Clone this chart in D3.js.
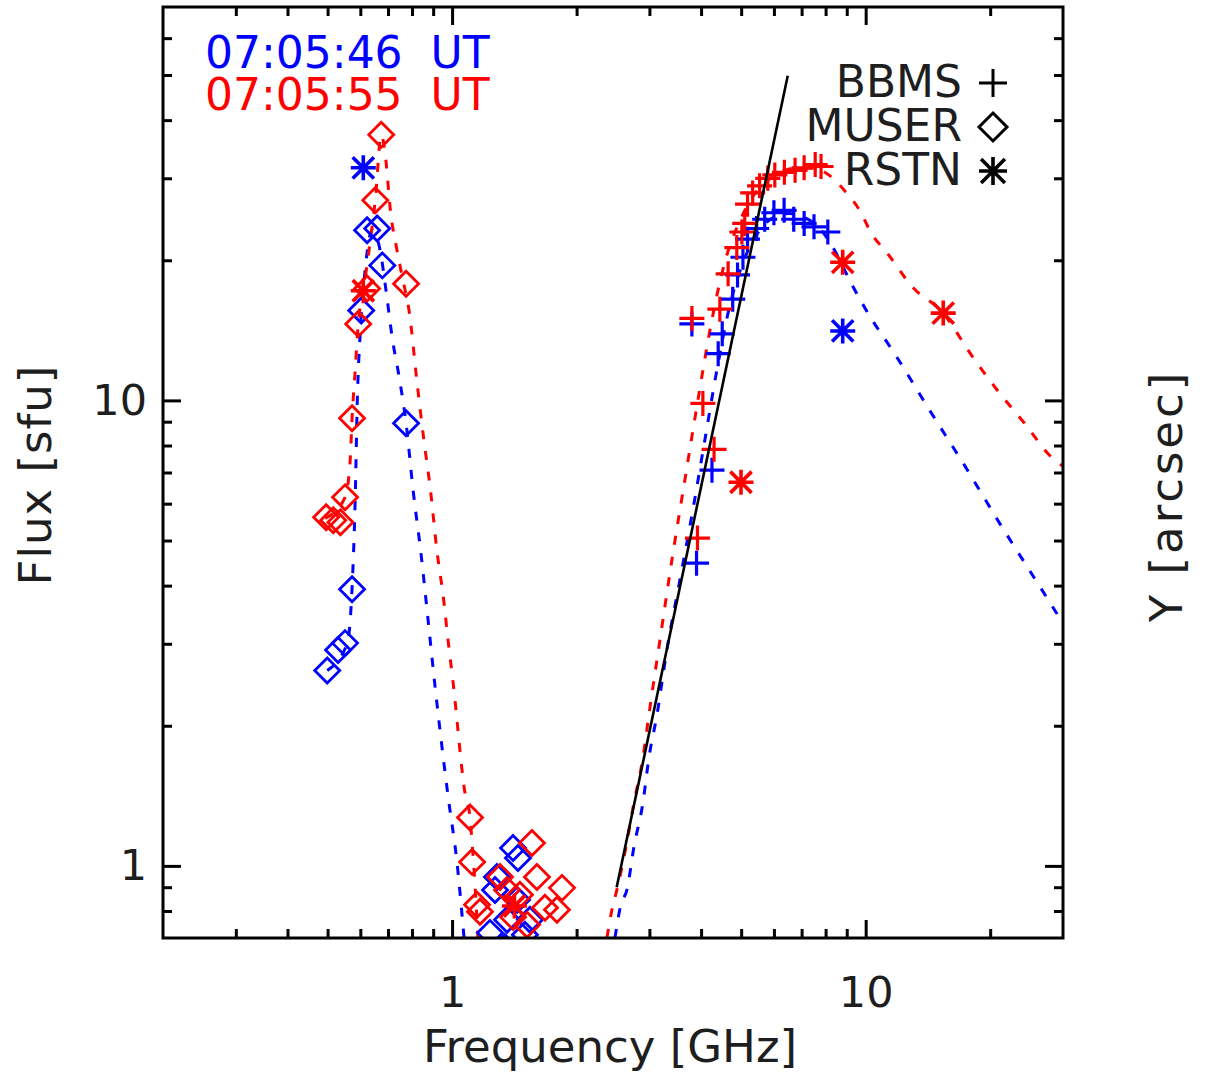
<!DOCTYPE html>
<html>
<head>
<meta charset="utf-8">
<script src="https://cdn.jsdelivr.net/npm/d3@7"></script>
<style>
  html, body { margin: 0; padding: 0; background: #fff; }
  svg { display: block; }
  text { font-family: "DejaVu Sans", sans-serif; }
</style>
</head>
<body>
<svg id="chart" width="1206" height="1077"></svg>
<script>
// ---- Axis ticks -------------------------------------------------------
const xMajorTicks = [1, 10];
const xMinorTicks = [0.3, 0.4, 0.5, 0.6, 0.7, 0.8, 0.9, 2, 3, 4, 5, 6, 7, 8, 9, 20];
const yMajorTicks = [1, 10];
const yMinorTicks = [0.8, 0.9, 2, 3, 4, 5, 6, 7, 8, 9, 20, 30, 40, 50, 60];

// ---- Observed spectra, 07:05:46 UT (blue) ------------------------------
const muserFreqBlue = [0.499, 0.530, 0.551, 0.573, 0.603, 0.623, 0.659, 0.678, 0.774,
                       1.235, 1.270, 1.284, 1.358, 1.404, 1.436, 1.443, 1.500, 1.543, 1.340];
const muserFluxBlue = [2.63, 2.91, 3.01, 3.93, 15.6, 23.2, 23.4, 19.5, 8.93,
                       0.718, 0.888, 0.947, 0.766, 1.093, 0.846, 1.040, 0.711, 0.766, 0.67];
const rstnFreqBlue = [0.61, 8.8];
const rstnFluxBlue = [31.6, 14.1];
const bbmsFreqBlue = [3.80, 3.90, 4.25, 4.40, 4.50, 4.77, 4.90, 5.05, 5.18, 5.45,
                      5.70, 6.00, 6.35, 6.70, 7.10, 7.50, 8.10];
const bbmsFluxBlue = [14.6, 4.47, 7.08, 12.6, 13.9, 16.5, 18.6, 20.3, 22.2, 23.4,
                      24.5, 25.3, 25.6, 24.5, 24.0, 23.6, 23.0];

// ---- Observed spectra, 07:05:55 UT (red) -------------------------------
const muserFreqRed = [0.496, 0.516, 0.537, 0.551, 0.573, 0.593, 0.623, 0.652, 0.674, 0.774,
                      1.105, 1.118, 1.149, 1.168, 1.306, 1.358, 1.404, 1.459, 1.518,
                      1.560, 1.604, 1.677, 1.793, 1.844];
const muserFluxRed = [5.61, 5.53, 5.47, 6.19, 9.15, 14.6, 17.4, 26.9, 37.2, 17.8,
                      1.27, 1.02, 0.825, 0.797, 0.947, 0.888, 0.777, 0.867, 0.747,
                      1.120, 0.947, 0.813, 0.805, 0.897];
const rstnFreqRed = [0.61, 1.415, 4.995, 8.8, 15.4];
const rstnFluxRed = [17.2, 0.82, 6.67, 19.8, 15.4];
const bbmsFreqRed = [3.80, 3.92, 4.04, 4.30, 4.44, 4.65, 4.88, 5.02, 5.10, 5.18,
                     5.33, 5.54, 5.80, 6.03, 6.36, 6.75, 7.10, 7.55, 7.80];
const bbmsFluxRed = [15.0, 5.06, 9.85, 7.85, 15.7, 18.7, 21.3, 23.0, 24.0, 26.4,
                     27.9, 28.9, 30.0, 30.5, 30.9, 31.2, 31.6, 32.1, 31.8];

// ---- Model spectra (dashed) --------------------------------------------
const lowFitFreqBlue = [0.499, 0.558, 0.573, 0.583, 0.590, 0.600, 0.616, 0.641, 0.670, 0.693,
                        0.716, 0.749, 0.774, 0.805, 0.842, 0.875, 0.910, 0.978, 1.028, 1.069];
const lowFitFluxBlue = [2.63, 3.01, 3.95, 6.10, 10.0, 14.1, 19.0, 23.2, 21.0, 17.1,
                        13.7, 10.9, 8.93, 6.41, 4.65, 3.37, 2.42, 1.41, 1.015, 0.70];
const lowFitFreqRed = [0.4935, 0.551, 0.567, 0.573, 0.583, 0.593, 0.610, 0.634, 0.652, 0.674,
                       0.693, 0.708, 0.736, 0.761, 0.787, 0.823, 0.856, 0.885, 0.920, 0.951,
                       0.978, 1.006, 1.075, 1.105, 1.118, 1.130, 1.155];
const lowFitFluxRed = [5.58, 6.19, 7.43, 9.15, 11.6, 14.6, 17.2, 22.0, 26.9, 37.2,
                       32.3, 26.0, 21.0, 18.1, 15.6, 10.9, 8.13, 6.51, 4.72, 3.82,
                       3.05, 2.47, 1.43, 1.27, 1.12, 0.98, 0.70];
const highFitFreqBlue = [2.476, 2.559, 2.647, 2.752, 2.893, 2.991, 3.128, 3.306, 3.554, 3.82,
                         4.084, 4.366, 4.694, 5.102, 5.546, 6.029, 6.553, 7.121, 7.743, 8.418,
                         9.150, 10.22, 11.75, 14.28, 17.34, 21.07, 25.60, 30.0];
const highFitFluxBlue = [0.70, 0.825, 0.888, 1.098, 1.365, 1.705, 2.109, 2.908, 4.11, 5.81,
                         8.21, 11.6, 16.0, 20.2, 23.2, 24.8, 25.2, 24.7, 23.4, 21.0,
                         18.1, 15.2, 12.6, 9.52, 7.25, 5.45, 4.15, 3.32];
const highFitFreqRed = [2.368, 2.435, 2.503, 2.633, 2.752, 2.893, 2.991, 3.180, 3.400, 3.654,
                        3.929, 4.246, 4.564, 4.963, 5.395, 5.864, 6.373, 6.928, 7.531, 8.185,
                        8.897, 9.672, 10.34, 11.24, 12.99, 15.35, 18.03, 20.84, 24.22, 28.30, 30.0];
const highFitFluxRed = [0.70, 0.805, 0.888, 1.098, 1.365, 1.705, 2.109, 3.05, 4.54, 6.74,
                        10.0, 14.85, 19.8, 24.3, 27.8, 29.9, 31.2, 31.6, 31.5, 30.4,
                        28.2, 25.6, 22.8, 20.8, 17.5, 15.45, 12.5, 10.5, 8.93, 7.51, 7.22];

// Power-law fit to the optically thick slope
const powerLawFreq = [2.50, 6.48];
const powerLawFlux = [0.90, 49.8];

// ---- Labels ------------------------------------------------------------
const timeLabels = ["07:05:46  UT", "07:05:55  UT"];
const legendNames = ["BBMS", "MUSER", "RSTN"];
const xTitle = "Frequency [GHz]";
const yTitle = "Flux [sfu]";
const y2Title = "Y [arcsec]";

// ---- Layout ------------------------------------------------------------
const plot = { left: 163, right: 1063, top: 7, bottom: 938 };
const BLUE = "#0000ff", RED = "#ff0000", INK = "#1e1e1e";
const majorLen = 18, minorLen = 9;

const svg = d3.select("#chart");

const x = d3.scaleLog().domain([0.2, 30]).range([plot.left, plot.right]);
const y = d3.scaleLog().domain([0.7, 70]).range([plot.bottom, plot.top]);

svg.append("defs").append("clipPath").attr("id", "plot-clip")
  .append("rect")
  .attr("x", plot.left).attr("y", plot.top)
  .attr("width", plot.right - plot.left).attr("height", plot.bottom - plot.top);

const fitLayer = svg.append("g").attr("clip-path", "url(#plot-clip)");
const markLayer = svg.append("g").attr("clip-path", "url(#plot-clip)");
const lineLayer = svg.append("g").attr("clip-path", "url(#plot-clip)");

// ---- Dashed model curves ----------------------------------------------
const curve = d3.line()
  .x(d => x(d[0])).y(d => y(d[1]))
  .curve(d3.curveMonotoneX);

const fits = [
  { f: lowFitFreqBlue, s: lowFitFluxBlue, c: BLUE },
  { f: highFitFreqBlue, s: highFitFluxBlue, c: BLUE },
  { f: lowFitFreqRed, s: lowFitFluxRed, c: RED },
  { f: highFitFreqRed, s: highFitFluxRed, c: RED }
];
fits.forEach(ft => {
  fitLayer.append("path")
    .attr("d", curve(d3.zip(ft.f, ft.s)))
    .attr("fill", "none")
    .attr("stroke", ft.c)
    .attr("stroke-width", 3)
    .attr("stroke-dasharray", "9,12");
});

// ---- Markers -----------------------------------------------------------
const shapes = {
  plus: r => `M${-r},0H${r}M0,${-r}V${r}`,
  diamond: r => `M0,${-r}L${r},0L0,${r}L${-r},0Z`,
  star: r => {
    const q = r * 0.85;
    return `M${-r},0H${r}M0,${-r}V${r}M${-q},${-q}L${q},${q}M${-q},${q}L${q},${-q}`;
  }
};

function drawMarkers(freqs, fluxes, shape, color, r, width) {
  markLayer.append("g")
    .selectAll("path")
    .data(d3.zip(freqs, fluxes))
    .join("path")
    .attr("transform", d => `translate(${x(d[0])},${y(d[1])})`)
    .attr("d", shapes[shape](r))
    .attr("fill", "none")
    .attr("stroke", color)
    .attr("stroke-width", width);
}

drawMarkers(muserFreqBlue, muserFluxBlue, "diamond", BLUE, 12.5, 2.8);
drawMarkers(muserFreqRed, muserFluxRed, "diamond", RED, 12.5, 2.8);
drawMarkers(bbmsFreqBlue, bbmsFluxBlue, "plus", BLUE, 12.5, 3.2);
drawMarkers(bbmsFreqRed, bbmsFluxRed, "plus", RED, 12.5, 3.2);
drawMarkers(rstnFreqBlue, rstnFluxBlue, "star", BLUE, 12.5, 3.6);
drawMarkers(rstnFreqRed, rstnFluxRed, "star", RED, 12.5, 3.6);

// ---- Power-law line ----------------------------------------------------
lineLayer.append("path")
  .attr("d", d3.line().x(d => x(d[0])).y(d => y(d[1]))(d3.zip(powerLawFreq, powerLawFlux)))
  .attr("fill", "none")
  .attr("stroke", "#000")
  .attr("stroke-width", 2.6);

// ---- Axes (ticks point inward on all four sides) -----------------------
function styleAxis(g) {
  g.select(".domain").remove();
  g.selectAll(".tick line").attr("stroke", "#000").attr("stroke-width", 3);
  g.selectAll(".tick text")
    .attr("fill", INK)
    .style("font-family", "'DejaVu Sans', sans-serif")
    .style("font-size", "43px");
}

// bottom
svg.append("g").attr("transform", `translate(0,${plot.bottom})`)
  .call(d3.axisBottom(x).tickValues(xMajorTicks).tickFormat(d3.format("d"))
        .tickSizeInner(-majorLen).tickSizeOuter(0).tickPadding(38))
  .call(styleAxis);
svg.append("g").attr("transform", `translate(0,${plot.bottom})`)
  .call(d3.axisBottom(x).tickValues(xMinorTicks).tickFormat("")
        .tickSizeInner(-minorLen).tickSizeOuter(0))
  .call(styleAxis);
// top
svg.append("g").attr("transform", `translate(0,${plot.top})`)
  .call(d3.axisTop(x).tickValues(xMajorTicks).tickFormat("")
        .tickSizeInner(-majorLen).tickSizeOuter(0))
  .call(styleAxis);
svg.append("g").attr("transform", `translate(0,${plot.top})`)
  .call(d3.axisTop(x).tickValues(xMinorTicks).tickFormat("")
        .tickSizeInner(-minorLen).tickSizeOuter(0))
  .call(styleAxis);
// left
svg.append("g").attr("transform", `translate(${plot.left},0)`)
  .call(d3.axisLeft(y).tickValues(yMajorTicks).tickFormat(d3.format("d"))
        .tickSizeInner(-majorLen).tickSizeOuter(0).tickPadding(16))
  .call(styleAxis);
svg.append("g").attr("transform", `translate(${plot.left},0)`)
  .call(d3.axisLeft(y).tickValues(yMinorTicks).tickFormat("")
        .tickSizeInner(-minorLen).tickSizeOuter(0))
  .call(styleAxis);
// right
svg.append("g").attr("transform", `translate(${plot.right},0)`)
  .call(d3.axisRight(y).tickValues(yMajorTicks).tickFormat("")
        .tickSizeInner(-majorLen).tickSizeOuter(0))
  .call(styleAxis);
svg.append("g").attr("transform", `translate(${plot.right},0)`)
  .call(d3.axisRight(y).tickValues(yMinorTicks).tickFormat("")
        .tickSizeInner(-minorLen).tickSizeOuter(0))
  .call(styleAxis);

// frame
svg.append("rect")
  .attr("x", plot.left).attr("y", plot.top)
  .attr("width", plot.right - plot.left).attr("height", plot.bottom - plot.top)
  .attr("fill", "none").attr("stroke", "#000").attr("stroke-width", 3);

// ---- Axis titles -------------------------------------------------------
svg.append("text")
  .attr("x", 610).attr("y", 1062)
  .attr("text-anchor", "middle")
  .attr("fill", INK).style("font-size", "45px")
  .text(xTitle);
svg.append("text")
  .attr("transform", `translate(51,475) rotate(-90)`)
  .attr("text-anchor", "middle")
  .attr("fill", INK).style("font-size", "45px")
  .style("letter-spacing", "1px")
  .text(yTitle);
svg.append("text")
  .attr("transform", `translate(1182,496) rotate(-90)`)
  .attr("text-anchor", "middle")
  .attr("fill", INK).style("font-size", "45px")
  .style("letter-spacing", "3px")
  .text(y2Title);

// ---- Time stamps -------------------------------------------------------
svg.append("g").selectAll("text")
  .data(timeLabels)
  .join("text")
  .attr("x", 205)
  .attr("y", (d, i) => 68 + i * 42)
  .attr("fill", (d, i) => i === 0 ? BLUE : RED)
  .style("font-size", "44px")
  .style("white-space", "pre")
  .attr("xml:space", "preserve")
  .text(d => d);

// ---- Instrument legend -------------------------------------------------
const legendShapes = ["plus", "diamond", "star"];
const legend = svg.append("g");
legendNames.forEach((name, i) => {
  const baseY = 97 + i * 44;
  legend.append("text")
    .attr("x", 962).attr("y", baseY)
    .attr("text-anchor", "end")
    .attr("fill", INK)
    .style("font-size", "44px")
    .text(name);
  legend.append("path")
    .attr("transform", `translate(993,${baseY - 14})`)
    .attr("d", shapes[legendShapes[i]](14))
    .attr("fill", "none")
    .attr("stroke", "#000")
    .attr("stroke-width", legendShapes[i] === "star" ? 3.6 : 3);
});
</script>
</body>
</html>
